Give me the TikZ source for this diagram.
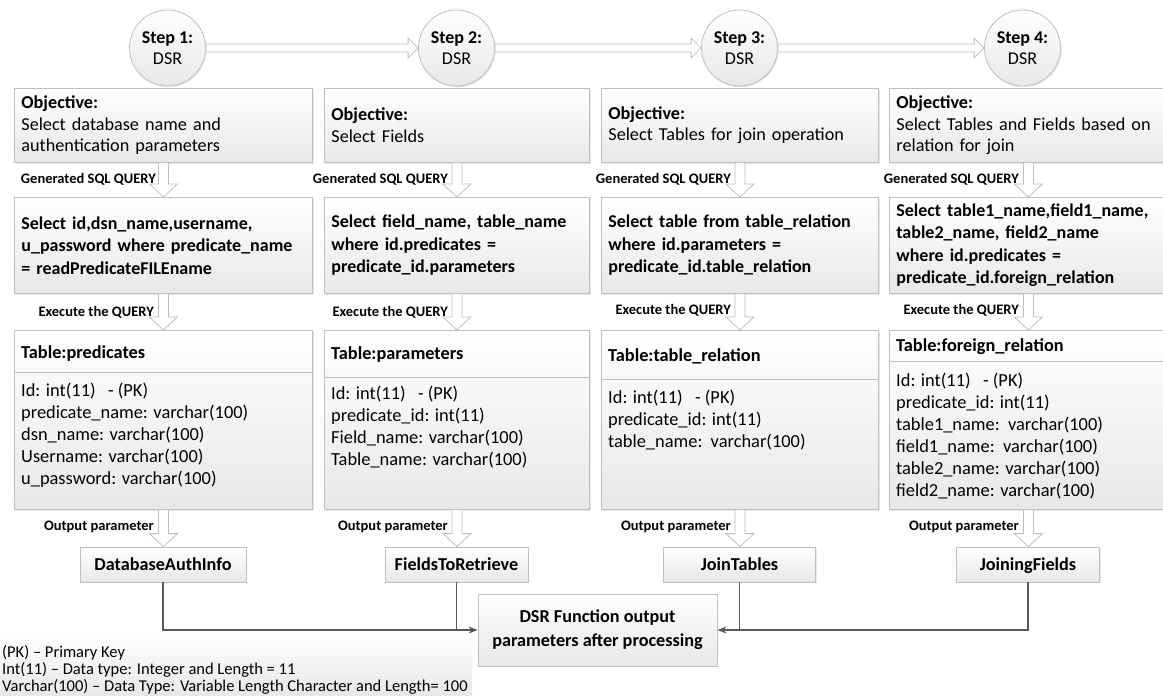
\documentclass[tikz,border=0pt]{standalone}
\usepackage{fontspec}
\setmainfont{Carlito}
\usetikzlibrary{calc,shadows,arrows.meta}
\definecolor{edge}{HTML}{BFBFBF}
\definecolor{shadebot}{HTML}{E8E8E8}
\definecolor{wire}{HTML}{595959}

% lines stacked with the baseline of the first line as reference
\newcommand{\firstbase}[1]{\begin{tabular}[t]{@{}l@{}}#1\end{tabular}}

\tikzset{
  box/.style={draw=edge, line width=0.8pt, top color=white, bottom color=shadebot,
    drop shadow={shadow xshift=1.2pt, shadow yshift=-1.2pt, opacity=0.18}},
  stepnode/.style={box, circle, minimum size=76pt, inner sep=0pt, align=center,
    font=\fontsize{18}{21}\selectfont},
  objbox/.style={box, anchor=north west, minimum height=74pt, inner xsep=7pt, align=left,
    font=\fontsize{18.2}{21.5}\selectfont},
  sqlbox/.style={box, anchor=north west, minimum height=96pt, inner xsep=7pt, align=left,
    font=\bfseries\fontsize{18}{22.5}\selectfont},
  tablebox/.style={box, anchor=north west, minimum height=179pt, inner sep=0pt},
  tabhead/.style={anchor=base west, inner sep=0pt, font=\bfseries\fontsize{18.3}{22}\selectfont},
  tabbody/.style={anchor=base west, inner sep=0pt, font=\fontsize{18.4}{22}\selectfont},
  outbox/.style={box, minimum height=35pt, inner sep=0pt, text height=14pt, text depth=3pt,
    font=\bfseries\fontsize{18.2}{22}\selectfont},
  flowlabel/.style={anchor=base east, inner sep=0pt, font=\bfseries\fontsize{14.5}{17}\selectfont},
  blockarr/.style={draw=edge, line width=0.8pt, fill=white},
  conn/.style={draw=wire, line width=1.2pt, -{Stealth[length=9pt,width=7pt]}},
  wireline/.style={draw=wire, line width=1.2pt},
}

% hollow block arrow pointing down, from the bottom of #1 to the top of #2
\newcommand{\flowdown}[2]{%
  \path[blockarr] let \p1=(#1.south), \p2=(#2.north) in
    (\x1-5pt,\y1) -- (\x1-5pt,\y2+13pt) -- (\x1-14pt,\y2+13pt) -- (\x1,\y2)
    -- (\x1+14pt,\y2+13pt) -- (\x1+5pt,\y2+13pt) -- (\x1+5pt,\y1) -- cycle;}
% hollow block arrow pointing right, from #1 to #2
\newcommand{\flowright}[2]{%
  \path[blockarr] let \p1=(#1.east), \p2=(#2.west) in
    (\x1,\y1+4pt) -- (\x2-10pt,\y1+4pt) -- (\x2-10pt,\y1+10pt) -- (\x2,\y1)
    -- (\x2-10pt,\y1-10pt) -- (\x2-10pt,\y1-4pt) -- (\x1,\y1-4pt) -- cycle;}

\begin{document}
\begin{tikzpicture}[x=1pt, y=-1pt]
\useasboundingbox (0,0) rectangle (1163,696);

% legend background
\fill[top color=white, bottom color=shadebot] (0,632) rectangle (472,696);

% step circles
\node[stepnode] (s1) at (167.5,48) {\textbf{Step 1:}\\DSR};
\node[stepnode] (s2) at (456.5,48) {\textbf{Step 2:}\\DSR};
\node[stepnode] (s3) at (739.5,48) {\textbf{Step 3:}\\DSR};
\node[stepnode] (s4) at (1022.5,48) {\textbf{Step 4:}\\DSR};

% objectives
\node[objbox, text width=284pt] (o1) at (14,88) {\textbf{Objective:}\\Select database name and\\authentication parameters};
\node[objbox, text width=251pt] (o2) at (324,88) {\textbf{Objective:}\\Select Fields};
\node[objbox, text width=263pt] (o3) at (601,88) {\textbf{Objective:}\\Select Tables for join operation};
\node[objbox, text width=264pt] (o4) at (889,88) {\textbf{Objective:}\\Select Tables and Fields based on\\relation for join};

% generated queries
\node[sqlbox, text width=284pt] (q1) at (14,197) {Select id,dsn\_name,username,\\u\_password where predicate\_name\\= readPredicateFILEname};
\node[sqlbox, text width=251pt] (q2) at (324,197) {Select field\_name, table\_name\\where id.predicates =\\predicate\_id.parameters};
\node[sqlbox, text width=263pt] (q3) at (601,197) {Select table from table\_relation\\where id.parameters =\\predicate\_id.table\_relation};
\node[sqlbox, text width=264pt] (q4) at (889,197) {Select table1\_name,field1\_name,\\table2\_name, field2\_name\\where id.predicates =\\predicate\_id.foreign\_relation};

% tables
\node[tablebox, minimum width=298pt] (t1) at (14,330) {};
\node[tablebox, minimum width=265pt] (t2) at (324,330) {};
\node[tablebox, minimum width=277pt] (t3) at (601,330) {};
\node[tablebox, minimum width=278pt] (t4) at (889,330) {};
\draw[edge, line width=0.8pt] (14,372) -- (312,372);
\draw[edge, line width=0.8pt] (324,377) -- (589,377);
\draw[edge, line width=0.8pt] (601,379) -- (878,379);
\draw[edge, line width=0.8pt] (889,361) -- (1167,361);
\node[tabhead] (t1h) at (21,358) {Table:predicates};
\node[tabhead] (t2h) at (331,359) {Table:parameters};
\node[tabhead] (t3h) at (608,361) {Table:table\_relation};
\node[tabhead] (t4h) at (896,351) {Table:foreign\_relation};
\node[tabbody] (t1b) at (21,396) {\firstbase{Id: int(11)\ \ \ - (PK)\\predicate\_name: varchar(100)\\dsn\_name: varchar(100)\\Username: varchar(100)\\u\_password: varchar(100)}};
\node[tabbody] (t2b) at (331,399) {\firstbase{Id: int(11)\ \ \ - (PK)\\predicate\_id: int(11)\\Field\_name: varchar(100)\\Table\_name: varchar(100)}};
\node[tabbody] (t3b) at (608,403) {\firstbase{Id: int(11)\ \ \ - (PK)\\predicate\_id: int(11)\\table\_name:\ \ varchar(100)}};
\node[tabbody] (t4b) at (896,386) {\firstbase{Id: int(11)\ \ \ - (PK)\\predicate\_id: int(11)\\table1\_name:\ \ varchar(100)\\field1\_name:\ \ varchar(100)\\table2\_name: varchar(100)\\field2\_name: varchar(100)}};

% output parameters
\node[outbox, minimum width=166pt] (r1) at (163,564.5) {DatabaseAuthInfo};
\node[outbox, minimum width=143pt] (r2) at (456.5,564.5) {FieldsToRetrieve};
\node[outbox, minimum width=152pt] (r3) at (739.5,564.5) {JoinTables};
\node[outbox, minimum width=143pt] (r4) at (1028,564.5) {JoiningFields};

% final result
\node[box, minimum width=239pt, minimum height=72pt, align=center,
  font=\bfseries\fontsize{18.2}{24}\selectfont] (dsr) at (597.5,630) {DSR Function output\\parameters after processing};

% step sequence
\flowright{s1}{s2}
\flowright{s2}{s3}
\flowright{s3}{s4}

% column flows
\foreach \c in {1,2,3,4}{
  \flowdown{o\c}{q\c}
  \flowdown{q\c}{t\c}
  \flowdown{t\c}{r\c}
}

% flow labels
\node[flowlabel] (g1) at (156,183) {Generated SQL QUERY};
\node[flowlabel] (g2) at (448,183) {Generated SQL QUERY};
\node[flowlabel] (g3) at (731,183) {Generated SQL QUERY};
\node[flowlabel] (g4) at (1019,183) {Generated SQL QUERY};
\node[flowlabel] (e1) at (154,316) {Execute the QUERY};
\node[flowlabel] (e2) at (448,316) {Execute the QUERY};
\node[flowlabel] (e3) at (731,314) {Execute the QUERY};
\node[flowlabel] (e4) at (1019,314) {Execute the QUERY};
\node[flowlabel] (p1) at (154,530) {Output parameter};
\node[flowlabel] (p2) at (448,530) {Output parameter};
\node[flowlabel] (p3) at (731,530) {Output parameter};
\node[flowlabel] (p4) at (1019,530) {Output parameter};

% collecting connectors
\draw[conn] (r1.south) |- (dsr.west);
\draw[wireline] (r2.south) -- (r2.south |- dsr.west);
\draw[conn] (r4.south) |- (dsr.east);
\draw[wireline] (r3.south) -- (r3.south |- dsr.east);

% key
\node[anchor=base west, inner sep=0pt, font=\fontsize{16.5}{17}\selectfont] (key) at (2,657)
  {\firstbase{(PK) -- Primary Key\\Int(11) -- Data type: Integer and Length = 11\\Varchar(100) -- Data Type: Variable Length Character and Length= 100}};
\end{tikzpicture}
\end{document}
